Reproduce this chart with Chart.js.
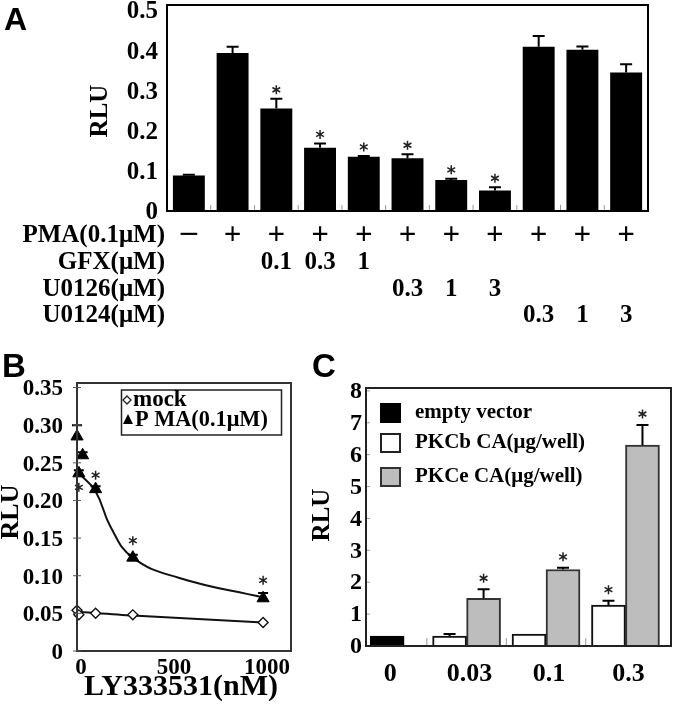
<!DOCTYPE html>
<html>
<head>
<meta charset="utf-8">
<script src="https://cdn.jsdelivr.net/npm/chart.js@4.4.1/dist/chart.umd.min.js"></script>
<style>
  body { margin: 0; background: #fff; }
  #wrap { position: relative; width: 676px; height: 704px; }
  canvas { position: absolute; }
</style>
</head>
<body>
<div id="wrap">
  <canvas id="cA" width="676" height="336" style="left:0;top:0"></canvas>
  <canvas id="cB" width="300" height="364" style="left:0;top:340px"></canvas>
  <canvas id="cC" width="376" height="364" style="left:300px;top:340px"></canvas>
</div>
<script>
// ---------- panel A ----------
const groupsA = ['control', 'PMA', 'GFX 0.1', 'GFX 0.3', 'GFX 1', 'U0126 0.3', 'U0126 1', 'U0126 3', 'U0124 0.3', 'U0124 1', 'U0124 3'];
const rluA = [0.088, 0.393, 0.255, 0.157, 0.135, 0.131, 0.077, 0.051, 0.408, 0.401, 0.344];
const errA = [0.002, 0.015, 0.024, 0.011, 0.002, 0.010, 0.003, 0.008, 0.027, 0.008, 0.021];
const starA = [false, false, true, true, true, true, true, true, false, false, false];
const rowPMA = ['−', '+', '+', '+', '+', '+', '+', '+', '+', '+', '+'];
const rowGFX = ['', '', '0.1', '0.3', '1', '', '', '', '', '', ''];
const rowU0126 = ['', '', '', '', '', '0.3', '1', '3', '', '', ''];
const rowU0124 = ['', '', '', '', '', '', '', '', '0.3', '1', '3'];
const rowNames = ['PMA(0.1μM)', 'GFX(μM)', 'U0126(μM)', 'U0124(μM)'];
const yTicksA = [0, 0.1, 0.2, 0.3, 0.4, 0.5];
const yLabelsA = ['0', '0.1', '0.2', '0.3', '0.4', '0.5'];

// ---------- panel B ----------
const mockX = [0, 10, 100, 300, 1000];
const mockY = [0.054, 0.048, 0.050, 0.048, 0.038];
const pmaX = [0, 10, 30, 100, 300, 1000];
const pmaY = [0.285, 0.236, 0.260, 0.215, 0.124, 0.070];
const pmaErr = [0.015, 0.004, 0.004, 0.004, 0.004, 0.007];
const pmaStar = [false, true, false, true, true, true];
const pmaFitX = [10, 100, 180, 300, 550, 1000];
const pmaFitY = [0.236, 0.212, 0.165, 0.124, 0.097, 0.071];
const mockFitX = [0, 300, 1000];
const mockFitY = [0.052, 0.047, 0.038];
const xTicksB = [0, 500, 1000];
const yTicksB = [0, 0.05, 0.10, 0.15, 0.20, 0.25, 0.30, 0.35];
const yLabelsB = ['0', '0.05', '0.10', '0.15', '0.20', '0.25', '0.30', '0.35'];

// ---------- panel C ----------
const doseC = ['0', '0.03', '0.1', '0.3'];
const emptyC = [0.31, null, null, null];
const pkcbC = [null, 0.31, 0.376, 1.285];
const pkceC = [null, 1.495, 2.40, 6.30];
const errEmptyC = [0, null, null, null];
const errPkcbC = [null, 0.07, 0, 0.135];
const errPkceC = [null, 0.285, 0.05, 0.63];
const starPkcbC = [false, false, false, true];
const starPkceC = [false, true, true, true];
const yTicksC = [0, 1, 2, 3, 4, 5, 6, 7, 8];

const SERIF = '"Liberation Serif", "Times New Roman", serif';
const SANS = '"Liberation Sans", Arial, sans-serif';

function txt(ctx, s, x, y, o) {
  ctx.save();
  ctx.font = 'bold ' + o.size + 'px ' + (o.family || SERIF);
  ctx.fillStyle = '#000';
  ctx.textAlign = o.align || 'center';
  ctx.textBaseline = o.base || 'middle';
  ctx.translate(x, y);
  if (o.rot) ctx.rotate(o.rot);
  ctx.scale(o.sx || 1, 1);
  ctx.fillText(s, 0, 0);
  ctx.restore();
}

function star(ctx, x, y, r) {
  ctx.save();
  ctx.strokeStyle = '#222';
  ctx.lineWidth = 1.5;
  ctx.beginPath();
  for (let k = 0; k < 3; k++) {
    const a = Math.PI / 2 + k * Math.PI / 3;
    ctx.moveTo(x - r * Math.cos(a), y - r * Math.sin(a));
    ctx.lineTo(x + r * Math.cos(a), y + r * Math.sin(a));
  }
  ctx.stroke();
  ctx.restore();
}

function errBar(ctx, x, yv, yt, cap) {
  ctx.save();
  ctx.strokeStyle = '#000';
  ctx.lineWidth = 2;
  ctx.beginPath();
  ctx.moveTo(x, yv);
  ctx.lineTo(x, yt);
  ctx.moveTo(x - cap / 2, yt);
  ctx.lineTo(x + cap / 2, yt);
  ctx.stroke();
  ctx.restore();
}

function box(ctx, a, w, col) {
  ctx.save();
  ctx.strokeStyle = col;
  ctx.lineWidth = w;
  ctx.strokeRect(a.left, a.top, a.right - a.left, a.bottom - a.top);
  ctx.restore();
}

const baseOpts = {
  responsive: false,
  animation: false,
  plugins: { legend: { display: false }, tooltip: { enabled: false } }
};

// ---------- A ----------
const decorA = {
  id: 'decorA',
  afterDatasetsDraw(chart) {
    const ctx = chart.ctx, a = chart.chartArea;
    const xs = chart.scales.x, ys = chart.scales.y;
    const meta = chart.getDatasetMeta(0);
    meta.data.forEach((bar, i) => {
      const yt = ys.getPixelForValue(rluA[i] + errA[i]);
      errBar(ctx, bar.x, ys.getPixelForValue(rluA[i]), yt, 12);
      if (starA[i]) star(ctx, bar.x, yt - 9, 4.5);
    });
    // small ticks between categories
    ctx.save();
    ctx.strokeStyle = '#999';
    ctx.lineWidth = 1;
    for (let i = 1; i < groupsA.length; i++) {
      const x = (xs.getPixelForValue(i - 1) + xs.getPixelForValue(i)) / 2;
      ctx.beginPath(); ctx.moveTo(x, a.bottom); ctx.lineTo(x, a.bottom - 6); ctx.stroke();
    }
    ctx.restore();
    box(ctx, a, 2, '#000');
    yTicksA.forEach((v, i) => txt(ctx, yLabelsA[i], 158, ys.getPixelForValue(v) + 2, { size: 25, align: 'right' }));
    txt(ctx, 'RLU', 101, 111, { size: 25, rot: -Math.PI / 2 });
    txt(ctx, 'A', 4, 30, { size: 32, family: SANS, align: 'left', base: 'alphabetic' });
    const rows = [rowPMA, rowGFX, rowU0126, rowU0124];
    const rowY = [236, 263, 290, 316];
    rows.forEach((row, r) => {
      txt(ctx, rowNames[r], 165, rowY[r], { size: 25, align: 'right' });
      row.forEach((s, i) => {
        if (s) txt(ctx, s, xs.getPixelForValue(i), rowY[r], { size: r === 0 ? 31 : 25, sx: s === '−' ? 1.15 : 1 });
      });
    });
  }
};

new Chart(document.getElementById('cA'), {
  type: 'bar',
  data: {
    labels: groupsA,
    datasets: [{ data: rluA, backgroundColor: '#000', borderWidth: 0, barPercentage: 0.73, categoryPercentage: 1 }]
  },
  options: Object.assign({}, baseOpts, {
    layout: { padding: { left: 167, right: 28, top: 5, bottom: 125 } },
    scales: { x: { display: false }, y: { display: false, min: 0, max: 0.512 } }
  }),
  plugins: [decorA]
});

// ---------- B ----------
const starOffB = [0, 14, 0, -14, -17, -18];
const decorB = {
  id: 'decorB',
  afterDatasetsDraw(chart) {
    const ctx = chart.ctx, a = chart.chartArea;
    const xs = chart.scales.x, ys = chart.scales.y;
    pmaX.forEach((x, i) => {
      const px = xs.getPixelForValue(x);
      const yt = ys.getPixelForValue(pmaY[i] + pmaErr[i]);
      errBar(ctx, px, ys.getPixelForValue(pmaY[i]), yt, 10);
      if (pmaStar[i]) star(ctx, px, ys.getPixelForValue(pmaY[i]) + starOffB[i], 4.5);
    });
    box(ctx, a, 2, '#333');
    ctx.save();
    ctx.strokeStyle = '#555';
    ctx.lineWidth = 1;
    yTicksB.forEach(v => {
      const py = ys.getPixelForValue(v);
      ctx.beginPath(); ctx.moveTo(a.left - 4, py); ctx.lineTo(a.left + 4, py); ctx.stroke();
    });
    ctx.restore();
    yTicksB.forEach((v, i) => txt(ctx, yLabelsB[i], 63, ys.getPixelForValue(v) + 2, { size: 23, align: 'right' }));
    xTicksB.forEach(v => txt(ctx, String(v), xs.getPixelForValue(v) + 4, 328, { size: 23 }));
    txt(ctx, 'LY333531(nM)', 181, 347, { size: 30 });
    txt(ctx, 'RLU', 11, 172, { size: 26, rot: -Math.PI / 2 });
    txt(ctx, 'B', 2, 37, { size: 33, family: SANS, align: 'left', base: 'alphabetic' });
    // legend
    ctx.save();
    ctx.strokeStyle = '#222';
    ctx.lineWidth = 1.5;
    ctx.strokeRect(121.5, 50, 160, 45);
    ctx.fillStyle = '#fff';
    ctx.lineWidth = 1.3;
    ctx.beginPath();
    ctx.moveTo(127, 56); ctx.lineTo(131, 60); ctx.lineTo(127, 64); ctx.lineTo(123, 60); ctx.closePath();
    ctx.fill(); ctx.stroke();
    ctx.fillStyle = '#000';
    ctx.beginPath();
    ctx.moveTo(128, 74); ctx.lineTo(133, 84); ctx.lineTo(123, 84); ctx.closePath();
    ctx.fill();
    ctx.restore();
    txt(ctx, 'mock', 133, 60, { size: 23, align: 'left' });
    txt(ctx, 'P MA(0.1μM)', 135, 80, { size: 23, align: 'left', sx: 0.97 });
  }
};

new Chart(document.getElementById('cB'), {
  type: 'line',
  data: {
    datasets: [
      { data: pmaFitX.map((x, i) => ({ x, y: pmaFitY[i] })), borderColor: '#111', borderWidth: 2, pointRadius: 0, tension: 0.45, order: 3 },
      { data: mockFitX.map((x, i) => ({ x, y: mockFitY[i] })), borderColor: '#111', borderWidth: 2, pointRadius: 0, tension: 0.3, order: 3 },
      { data: mockX.map((x, i) => ({ x, y: mockY[i] })), showLine: false, pointStyle: 'rectRot', pointRadius: 5, backgroundColor: '#fff', borderColor: '#111', pointBorderWidth: 1.4, clip: false, order: 2 },
      { data: pmaX.map((x, i) => ({ x, y: pmaY[i] })), showLine: false, pointStyle: 'triangle', pointRadius: 7, backgroundColor: '#000', borderColor: '#000', pointBorderWidth: 1, clip: false, order: 1 }
    ]
  },
  options: Object.assign({}, baseOpts, {
    layout: { padding: { left: 77, right: 9, top: 43, bottom: 53 } },
    scales: {
      x: { type: 'linear', display: false, min: 0, max: 1150 },
      y: { display: false, min: 0, max: 0.356 }
    }
  }),
  plugins: [decorB]
});

// ---------- C ----------
const decorC = {
  id: 'decorC',
  afterDatasetsDraw(chart) {
    const ctx = chart.ctx, a = chart.chartArea;
    const xs = chart.scales.x, ys = chart.scales.y;
    const sets = [[emptyC, errEmptyC, null], [pkcbC, errPkcbC, starPkcbC], [pkceC, errPkceC, starPkceC]];
    sets.forEach(([vals, errs, stars], d) => {
      const meta = chart.getDatasetMeta(d);
      vals.forEach((v, i) => {
        if (v === null || !errs[i]) return;
        const bar = meta.data[i];
        const yt = ys.getPixelForValue(v + errs[i]);
        errBar(ctx, bar.x, ys.getPixelForValue(v), yt, 12);
        if (stars && stars[i]) star(ctx, bar.x, yt - 11, 4.5);
      });
    });
    ctx.save();
    ctx.strokeStyle = '#999';
    ctx.lineWidth = 1;
    yTicksC.forEach(v => {
      const py = ys.getPixelForValue(v);
      ctx.beginPath(); ctx.moveTo(a.left, py); ctx.lineTo(a.left + 4, py); ctx.stroke();
    });
    for (let i = 1; i < doseC.length; i++) {
      const px = xs.getPixelForValue(i - 0.5);
      ctx.beginPath(); ctx.moveTo(px, a.bottom); ctx.lineTo(px, a.bottom - 8); ctx.stroke();
    }
    ctx.restore();
    box(ctx, a, 2, '#222');
    yTicksC.forEach(v => txt(ctx, String(v), 62, ys.getPixelForValue(v) + 1, { size: 24, align: 'right' }));
    doseC.forEach((s, i) => txt(ctx, s, xs.getPixelForValue(i) + 3, 334, { size: 26 }));
    txt(ctx, 'RLU', 23, 175, { size: 25, rot: -Math.PI / 2 });
    txt(ctx, 'C', 12, 37, { size: 33, family: SANS, align: 'left', base: 'alphabetic' });
    // legend
    const leg = [['empty vector', '#000', '#000'], ['PKCb CA(μg/well)', '#fff', '#222'], ['PKCe CA(μg/well)', '#bdbdbd', '#333']];
    const legY = [63, 93, 127];
    leg.forEach(([name, fill, line], k) => {
      ctx.save();
      ctx.fillStyle = fill;
      ctx.strokeStyle = line;
      ctx.lineWidth = 2;
      ctx.fillRect(80, legY[k], 21, 20);
      ctx.strokeRect(81, legY[k] + 1, 19, 18);
      ctx.restore();
      txt(ctx, name, 115, legY[k] + 10, { size: 21, align: 'left' });
    });
  }
};

const barC = { barThickness: 34, borderWidth: 2, borderSkipped: 'start' };
new Chart(document.getElementById('cC'), {
  type: 'bar',
  data: {
    datasets: [
      Object.assign({ data: emptyC.map((y, i) => ({ x: i, y })), backgroundColor: '#000', borderColor: '#000' }, barC),
      Object.assign({ data: pkcbC.map((y, i) => ({ x: i, y })), backgroundColor: '#fff', borderColor: '#111' }, barC),
      Object.assign({ data: pkceC.map((y, i) => ({ x: i, y })), backgroundColor: '#bdbdbd', borderColor: '#333' }, barC)
    ]
  },
  options: Object.assign({}, baseOpts, {
    skipNull: true,
    layout: { padding: { left: 66, right: 5, top: 48, bottom: 58 } },
    scales: {
      x: { type: 'linear', display: false, offset: false, min: -0.266, max: 3.573 },
      y: { display: false, min: 0, max: 8.09 }
    }
  }),
  plugins: [decorC]
});
</script>
</body>
</html>
